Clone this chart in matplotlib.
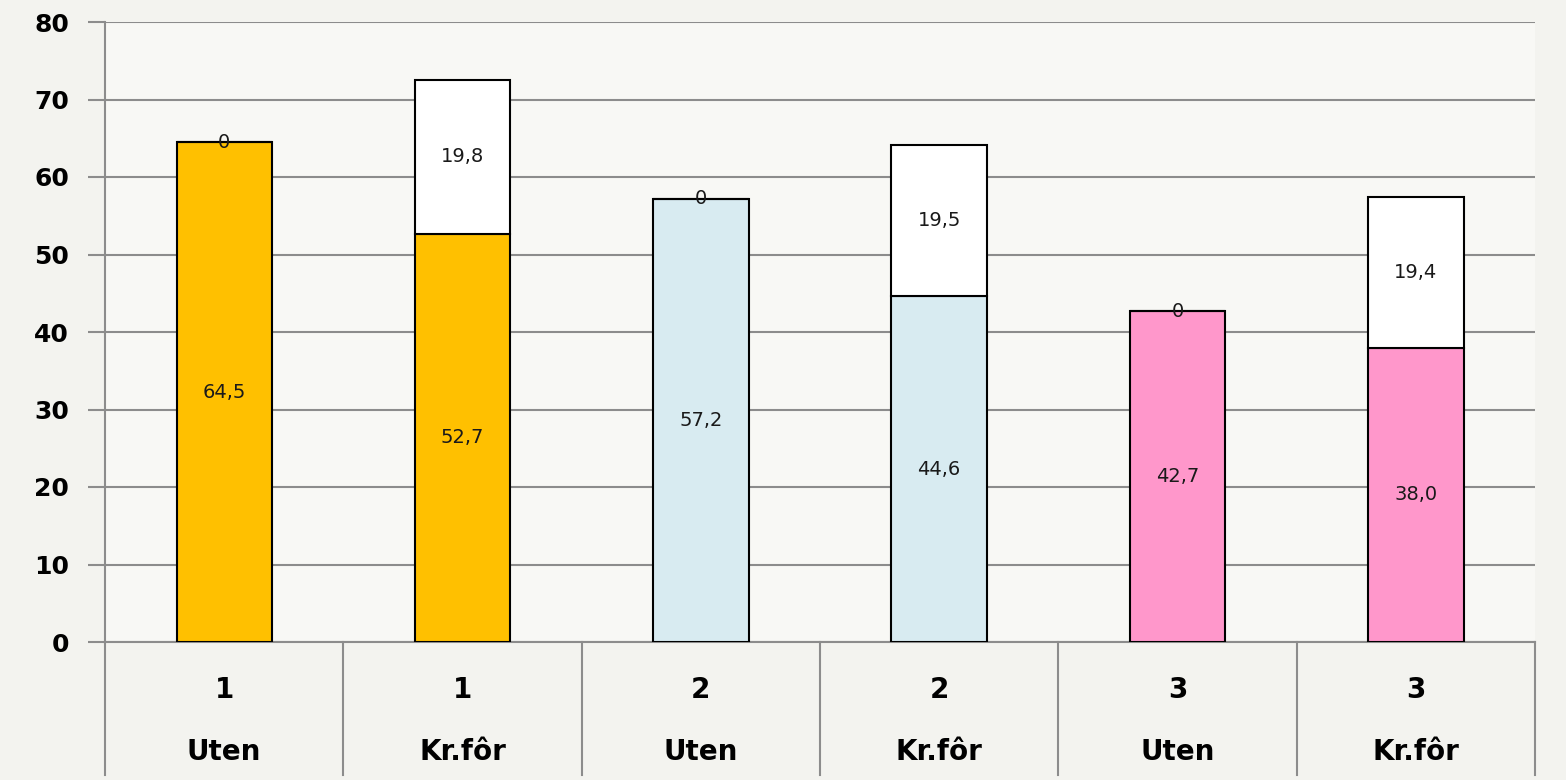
import numpy as np
import matplotlib.pyplot as plt
import matplotlib.transforms as mtransforms

# data
groups = ["1", "1", "2", "2", "3", "3"]
treatments = ["Uten", "Kr.fôr", "Uten", "Kr.fôr", "Uten", "Kr.fôr"]
base_vals = [64.5, 52.7, 57.2, 44.6, 42.7, 38.0]
extra_vals = [0, 19.8, 0, 19.5, 0, 19.4]
bar_colors = ["#FFC000", "#FFC000", "#D8EBF1", "#D8EBF1", "#FF97CB", "#FF97CB"]
y_ticks = [0, 10, 20, 30, 40, 50, 60, 70, 80]

W, H = 1566, 780
fig = plt.figure(figsize=(W / 100, H / 100), dpi=100)
fig.patch.set_facecolor("#F3F3EF")

x0, x1 = 105, 1535
y0, y1 = 642, 22
ax = fig.add_axes([x0 / W, (H - y0) / H, (x1 - x0) / W, (y0 - y1) / H])
ax.set_facecolor("#F8F8F5")

x = np.arange(len(base_vals))
ax.bar(x, base_vals, width=0.4, color=bar_colors, edgecolor="black", linewidth=1.5, zorder=3)
ax.bar(x, extra_vals, width=0.4, bottom=base_vals, color="white", edgecolor="black",
       linewidth=1.5, zorder=3)


def fmt(v):
    if v == 0:
        return "0"
    return f"{v:.1f}".replace(".", ",")


for i in range(len(x)):
    ax.text(x[i], base_vals[i] / 2, fmt(base_vals[i]), ha="center", va="center",
            fontsize=14, color="#1A1A1A", zorder=4)
    ax.text(x[i], base_vals[i] + extra_vals[i] / 2, fmt(extra_vals[i]), ha="center",
            va="center", fontsize=14, color="#1A1A1A", zorder=4)

ax.set_xlim(-0.5, len(x) - 0.5)
ax.set_ylim(0, 80)
ax.set_yticks(y_ticks)
ax.set_yticklabels([str(t) for t in y_ticks], fontsize=18, fontweight="bold")
ax.tick_params(axis="y", length=12, width=1.5, color="#8C8C8C", pad=14)
ax.set_xticks([])
ax.yaxis.grid(True, color="#8C8C8C", linewidth=1.5, zorder=0)
for s in ["top", "right"]:
    ax.spines[s].set_visible(False)
for s in ["left", "bottom"]:
    ax.spines[s].set_color("#8C8C8C")
    ax.spines[s].set_linewidth(1.5)

# category table under the plot
trans = mtransforms.blended_transform_factory(ax.transData, ax.transAxes)
bottom_ax = (y0 - 775) / (y0 - y1)
for b in np.arange(-0.5, len(x), 1.0):
    ax.plot([b, b], [0, bottom_ax], transform=trans, color="#8C8C8C", lw=1.5, clip_on=False)
for i in range(len(x)):
    ax.text(x[i], (y0 - 690) / (y0 - y1), groups[i], transform=trans, ha="center",
            va="center", fontsize=20, fontweight="bold")
    ax.text(x[i], (y0 - 752) / (y0 - y1), treatments[i], transform=trans, ha="center",
            va="center", fontsize=20, fontweight="bold")

fig.savefig("out.png", dpi=100, facecolor=fig.get_facecolor())
